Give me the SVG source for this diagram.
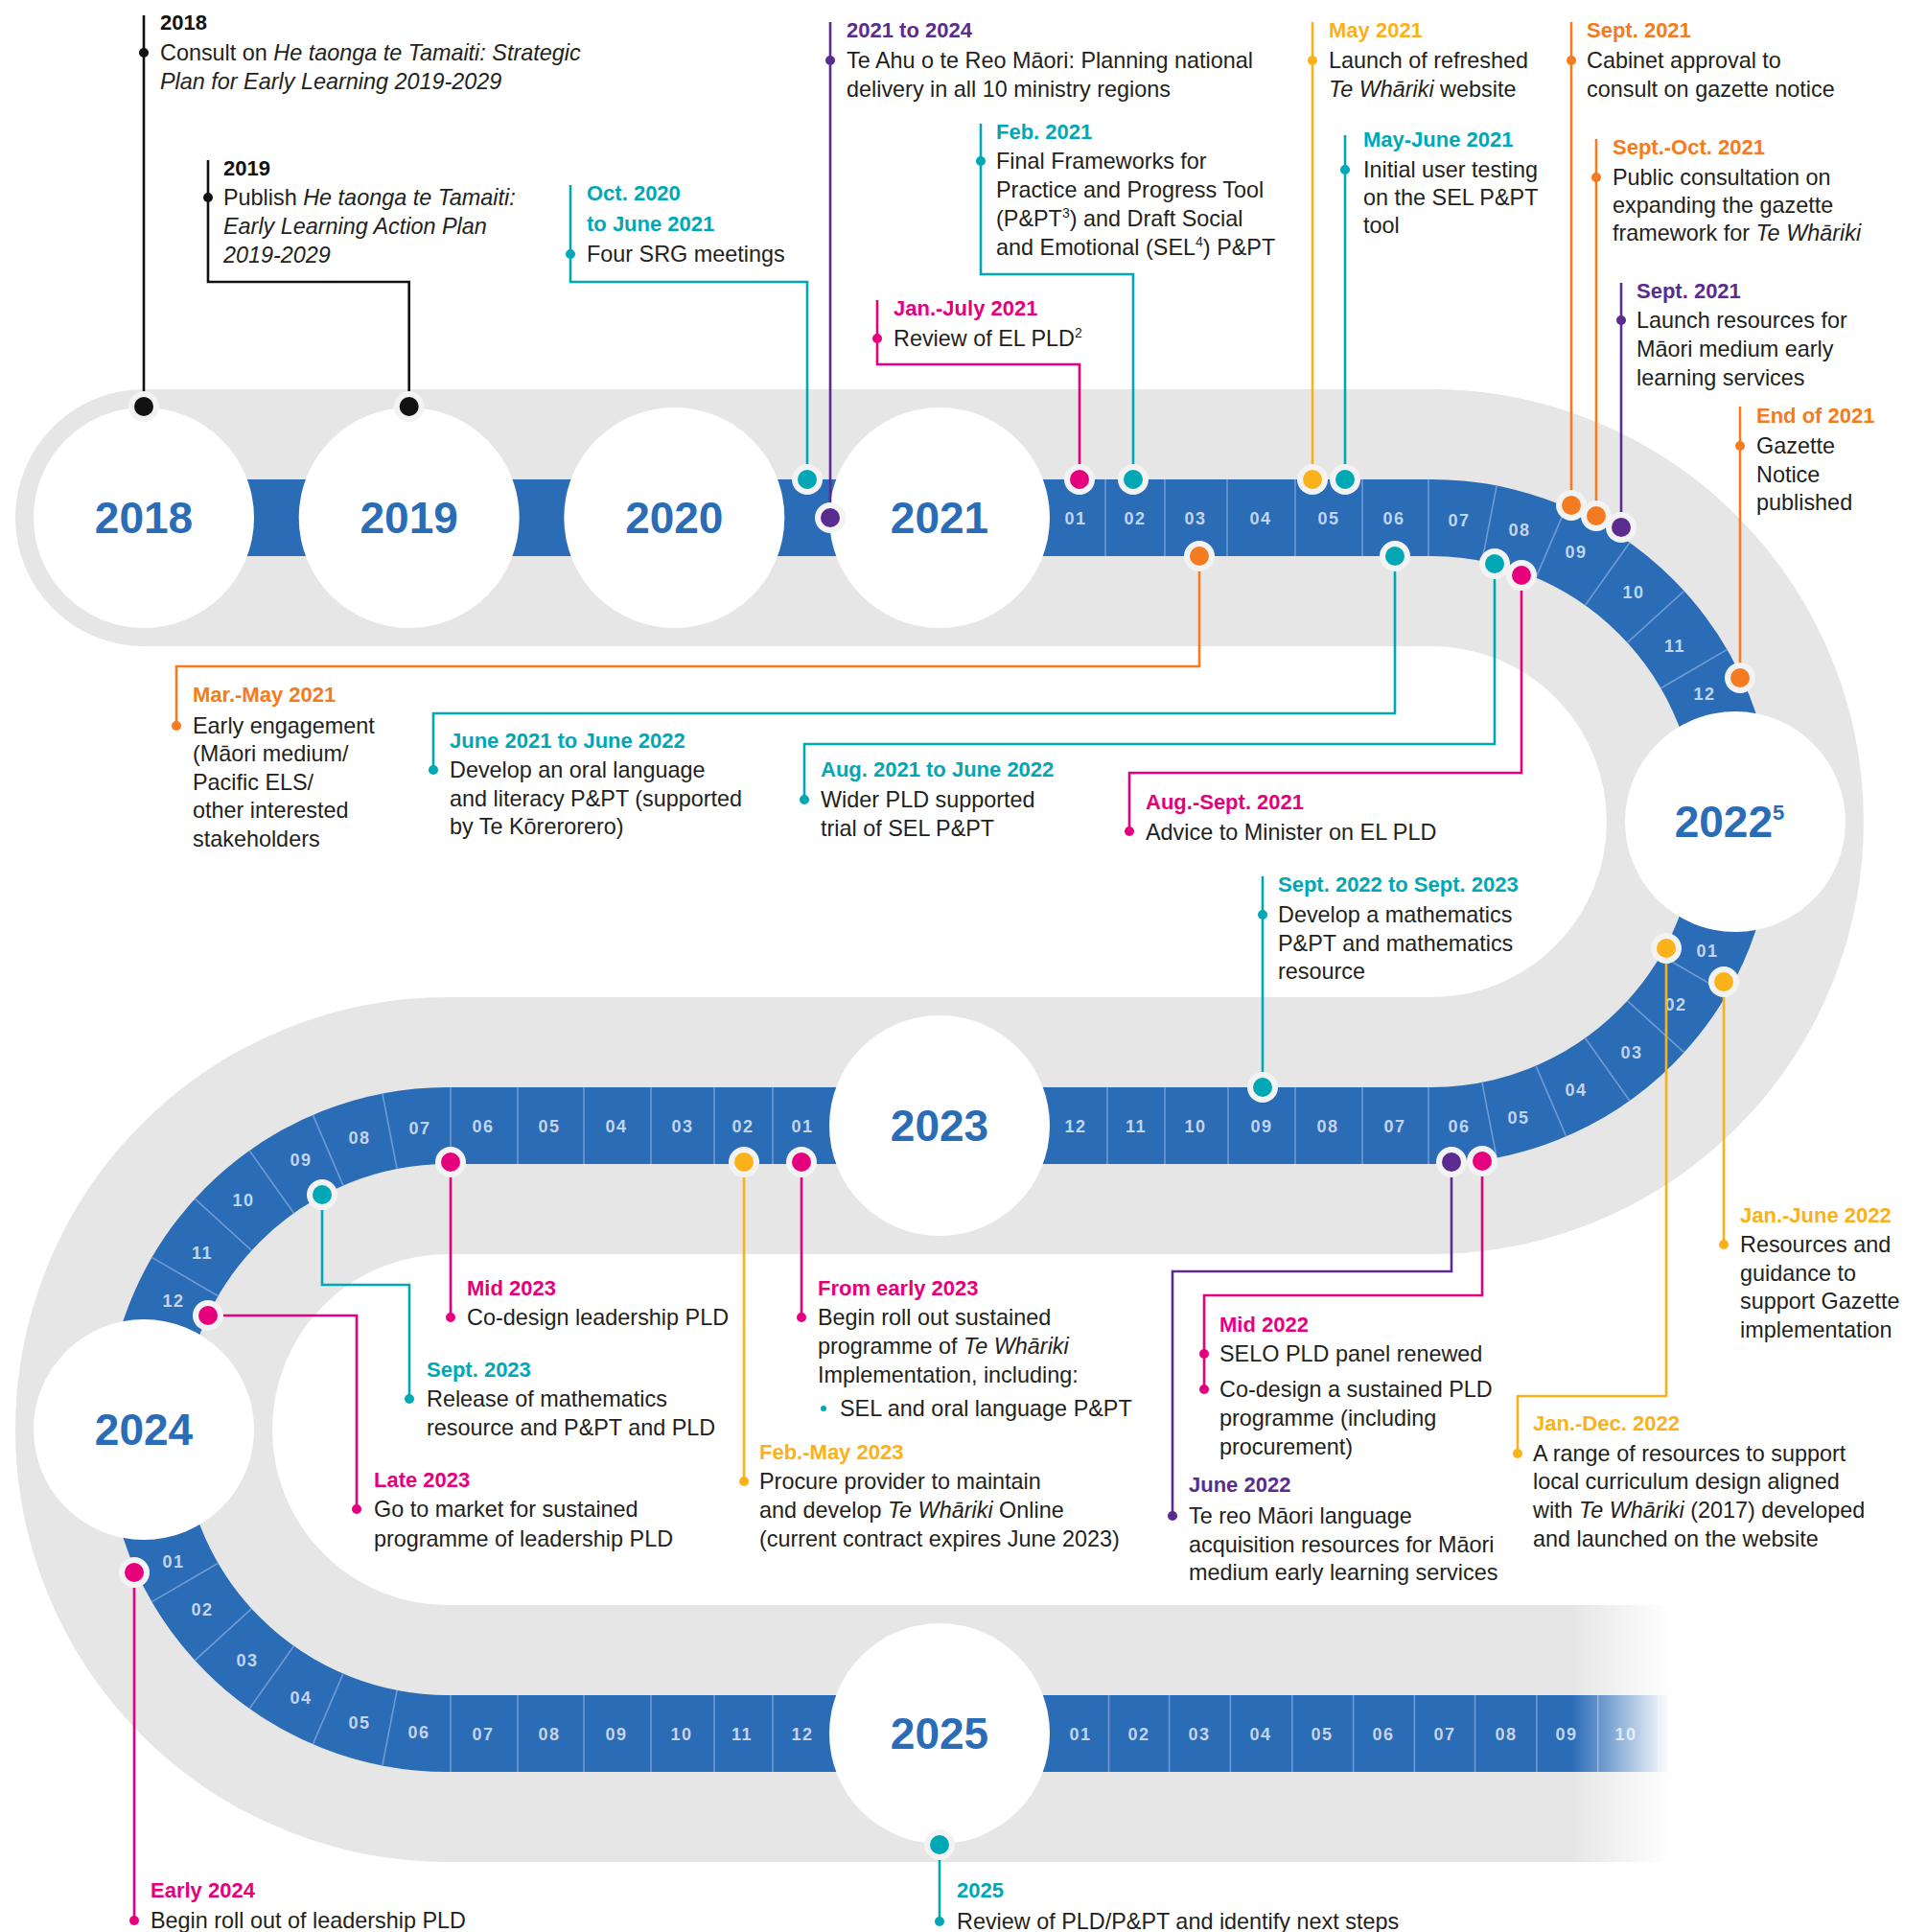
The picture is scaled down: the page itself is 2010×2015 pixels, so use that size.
<svg xmlns="http://www.w3.org/2000/svg" width="2010" height="2015" viewBox="0 0 2010 2015">
<style>
text{font-family:"Liberation Sans",Arial,sans-serif}
.ti{font-size:22px;font-weight:bold}
.b{font-size:23.4px;fill:#231f20}
.i{font-style:italic}
.yr{font-size:46px;font-weight:bold;fill:#2b6cb7;text-anchor:middle}
.mo{font-size:18px;font-weight:bold;fill:#c2d4ec;text-anchor:middle;letter-spacing:1.5px}
.dv{stroke:#6e9bd4;stroke-width:1.6}
.cn{fill:none;stroke-width:2.6}
.halo{fill:#f3f3f3}
.k{fill:#111111}.tl{fill:#00a7b5}.pu{fill:#5b2c8f}.pk{fill:#e6007e}.or{fill:#f47b20}.go{fill:#fbb21a}
.sk{stroke:#111111}.stl{stroke:#00a7b5}.spu{stroke:#5b2c8f}.spk{stroke:#e6007e}.sor{stroke:#f47b20}.sgo{stroke:#fbb21a}
</style>
<defs>
<linearGradient id="fade" gradientUnits="userSpaceOnUse" x1="1640" y1="0" x2="1742" y2="0">
<stop offset="0" stop-color="#ffffff" stop-opacity="0"/>
<stop offset="1" stop-color="#ffffff" stop-opacity="1"/>
</linearGradient>
</defs>
<rect width="2010" height="2015" fill="#ffffff"/>

<g id="track">
<circle cx="150" cy="540" r="134" fill="#e6e6e6"/>
<path d="M150,540 H1493 A317,317 0 0 1 1493,1174 H467 A317,317 0 0 0 467,1808" fill="none" stroke="#e6e6e6" stroke-width="268"/>
<rect x="462" y="1674" width="1300" height="268" fill="#e6e6e6"/>
<path d="M150,540 H1493 A317,317 0 0 1 1493,1174 H467 A317,317 0 0 0 467,1808" fill="none" stroke="#2b6cb7" stroke-width="80"/>
<rect x="462" y="1768" width="1300" height="80" fill="#2b6cb7"/>
</g>

<g id="month-dividers">
<line class="dv" x1="1153" y1="500" x2="1153" y2="580"/>
<line class="dv" x1="1215" y1="500" x2="1215" y2="580"/>
<line class="dv" x1="1280" y1="500" x2="1280" y2="580"/>
<line class="dv" x1="1351" y1="500" x2="1351" y2="580"/>
<line class="dv" x1="1421" y1="500" x2="1421" y2="580"/>
<line class="dv" x1="1490" y1="500" x2="1490" y2="580"/>
<line class="dv" x1="1545.9" y1="585.1" x2="1561.1" y2="506.6"/>
<line class="dv" x1="1602.1" y1="602.4" x2="1633.6" y2="528.9"/>
<line class="dv" x1="1653.5" y1="631.2" x2="1699.8" y2="566.0"/>
<line class="dv" x1="1697.6" y1="670.2" x2="1756.6" y2="616.3"/>
<line class="dv" x1="1732.4" y1="717.7" x2="1801.6" y2="677.4"/>
<line class="dv" x1="1732.4" y1="996.3" x2="1801.6" y2="1036.6"/>
<line class="dv" x1="1697.6" y1="1043.8" x2="1756.6" y2="1097.7"/>
<line class="dv" x1="1653.5" y1="1082.8" x2="1699.8" y2="1148.0"/>
<line class="dv" x1="1602.1" y1="1111.6" x2="1633.6" y2="1185.1"/>
<line class="dv" x1="1545.9" y1="1128.9" x2="1561.1" y2="1207.4"/>
<line class="dv" x1="1490" y1="1134" x2="1490" y2="1214"/>
<line class="dv" x1="1421" y1="1134" x2="1421" y2="1214"/>
<line class="dv" x1="1351" y1="1134" x2="1351" y2="1214"/>
<line class="dv" x1="1281" y1="1134" x2="1281" y2="1214"/>
<line class="dv" x1="1215" y1="1134" x2="1215" y2="1214"/>
<line class="dv" x1="1155" y1="1134" x2="1155" y2="1214"/>
<line class="dv" x1="806" y1="1134" x2="806" y2="1214"/>
<line class="dv" x1="745" y1="1134" x2="745" y2="1214"/>
<line class="dv" x1="679" y1="1134" x2="679" y2="1214"/>
<line class="dv" x1="609" y1="1134" x2="609" y2="1214"/>
<line class="dv" x1="540" y1="1134" x2="540" y2="1214"/>
<line class="dv" x1="470" y1="1134" x2="470" y2="1214"/>
<line class="dv" x1="414.1" y1="1219.1" x2="398.9" y2="1140.6"/>
<line class="dv" x1="357.9" y1="1236.4" x2="326.4" y2="1162.9"/>
<line class="dv" x1="306.5" y1="1265.2" x2="260.2" y2="1200.0"/>
<line class="dv" x1="262.4" y1="1304.2" x2="203.4" y2="1250.3"/>
<line class="dv" x1="227.6" y1="1351.7" x2="158.4" y2="1311.4"/>
<line class="dv" x1="227.6" y1="1630.3" x2="158.4" y2="1670.6"/>
<line class="dv" x1="262.4" y1="1677.8" x2="203.4" y2="1731.7"/>
<line class="dv" x1="306.5" y1="1716.8" x2="260.2" y2="1782.0"/>
<line class="dv" x1="357.9" y1="1745.6" x2="326.4" y2="1819.1"/>
<line class="dv" x1="414.1" y1="1762.9" x2="398.9" y2="1841.4"/>
<line class="dv" x1="470" y1="1768" x2="470" y2="1848"/>
<line class="dv" x1="540" y1="1768" x2="540" y2="1848"/>
<line class="dv" x1="609" y1="1768" x2="609" y2="1848"/>
<line class="dv" x1="679" y1="1768" x2="679" y2="1848"/>
<line class="dv" x1="745" y1="1768" x2="745" y2="1848"/>
<line class="dv" x1="806" y1="1768" x2="806" y2="1848"/>
<line class="dv" x1="1156.5" y1="1768" x2="1156.5" y2="1848"/>
<line class="dv" x1="1219.6" y1="1768" x2="1219.6" y2="1848"/>
<line class="dv" x1="1283.4" y1="1768" x2="1283.4" y2="1848"/>
<line class="dv" x1="1347.8" y1="1768" x2="1347.8" y2="1848"/>
<line class="dv" x1="1411.6" y1="1768" x2="1411.6" y2="1848"/>
<line class="dv" x1="1475.4" y1="1768" x2="1475.4" y2="1848"/>
<line class="dv" x1="1538.5" y1="1768" x2="1538.5" y2="1848"/>
<line class="dv" x1="1602.9" y1="1768" x2="1602.9" y2="1848"/>
<line class="dv" x1="1666.7" y1="1768" x2="1666.7" y2="1848"/>
<line class="dv" x1="1730" y1="1768" x2="1730" y2="1848"/>
</g>

<g id="month-labels">
<text class="mo" x="1122" y="547">01</text>
<text class="mo" x="1184" y="547">02</text>
<text class="mo" x="1247" y="547">03</text>
<text class="mo" x="1315" y="547">04</text>
<text class="mo" x="1386" y="547">05</text>
<text class="mo" x="1454" y="547">06</text>
<text class="mo" x="1522" y="549">07</text>
<text class="mo" x="1585" y="559">08</text>
<text class="mo" x="1644" y="582">09</text>
<text class="mo" x="1704" y="624">10</text>
<text class="mo" x="1747" y="680">11</text>
<text class="mo" x="1778" y="730">12</text>
<text class="mo" x="1781" y="998">01</text>
<text class="mo" x="1748" y="1054">02</text>
<text class="mo" x="1702" y="1104">03</text>
<text class="mo" x="1644" y="1143">04</text>
<text class="mo" x="1584" y="1172">05</text>
<text class="mo" x="1522" y="1181">06</text>
<text class="mo" x="1455" y="1181">07</text>
<text class="mo" x="1385" y="1181">08</text>
<text class="mo" x="1316" y="1181">09</text>
<text class="mo" x="1247" y="1181">10</text>
<text class="mo" x="1185" y="1181">11</text>
<text class="mo" x="1122" y="1181">12</text>
<text class="mo" x="837" y="1181">01</text>
<text class="mo" x="775" y="1181">02</text>
<text class="mo" x="712" y="1181">03</text>
<text class="mo" x="643" y="1181">04</text>
<text class="mo" x="573" y="1181">05</text>
<text class="mo" x="504" y="1181">06</text>
<text class="mo" x="438" y="1183">07</text>
<text class="mo" x="375" y="1193">08</text>
<text class="mo" x="314" y="1216">09</text>
<text class="mo" x="254" y="1258">10</text>
<text class="mo" x="211" y="1313">11</text>
<text class="mo" x="181" y="1363">12</text>
<text class="mo" x="181" y="1635">01</text>
<text class="mo" x="211" y="1685">02</text>
<text class="mo" x="258" y="1738">03</text>
<text class="mo" x="314" y="1777">04</text>
<text class="mo" x="375" y="1803">05</text>
<text class="mo" x="437" y="1813">06</text>
<text class="mo" x="504" y="1815">07</text>
<text class="mo" x="573" y="1815">08</text>
<text class="mo" x="643" y="1815">09</text>
<text class="mo" x="711" y="1815">10</text>
<text class="mo" x="774" y="1815">11</text>
<text class="mo" x="837" y="1815">12</text>
<text class="mo" x="1127" y="1815">01</text>
<text class="mo" x="1188" y="1815">02</text>
<text class="mo" x="1251" y="1815">03</text>
<text class="mo" x="1315" y="1815">04</text>
<text class="mo" x="1379" y="1815">05</text>
<text class="mo" x="1443" y="1815">06</text>
<text class="mo" x="1507" y="1815">07</text>
<text class="mo" x="1571" y="1815">08</text>
<text class="mo" x="1634" y="1815">09</text>
<text class="mo" x="1696" y="1815">10</text>
</g>

<rect id="fade-out" x="1636" y="1660" width="374" height="300" fill="url(#fade)"/>

<g id="years">
<g id="y2018"><circle cx="150" cy="540" r="115" fill="#fff"/><text class="yr" x="150" y="556">2018</text></g>
<g id="y2019"><circle cx="426.7" cy="540" r="115" fill="#fff"/><text class="yr" x="426.7" y="556">2019</text></g>
<g id="y2020"><circle cx="703.3" cy="540" r="115" fill="#fff"/><text class="yr" x="703.3" y="556">2020</text></g>
<g id="y2021"><circle cx="980" cy="540" r="115" fill="#fff"/><text class="yr" x="980" y="556">2021</text></g>
<g id="y2022"><circle cx="1810" cy="857" r="115" fill="#fff"/><text class="yr" x="1804" y="873">2022<tspan font-size="22" dy="-18">5</tspan></text></g>
<g id="y2023"><circle cx="980" cy="1174" r="115" fill="#fff"/><text class="yr" x="980" y="1190">2023</text></g>
<g id="y2024"><circle cx="150" cy="1491" r="115" fill="#fff"/><text class="yr" x="150" y="1507">2024</text></g>
<g id="y2025"><circle cx="980" cy="1808" r="115" fill="#fff"/><text class="yr" x="980" y="1824">2025</text></g>
</g>

<g id="connectors">
<path class="cn sk" d="M150,16 V424"/>
<path class="cn sk" d="M217,167 V294 H426.7 V424"/>
<path class="cn stl" d="M595,193 V294 H842 V500"/>
<path class="cn spu" d="M866,23 V540"/>
<path class="cn stl" d="M1023,129 V286 H1182 V500"/>
<path class="cn spk" d="M915,313 V380 H1126 V500"/>
<path class="cn sgo" d="M1369,23 V500"/>
<path class="cn stl" d="M1403,141 V500"/>
<path class="cn sor" d="M1639,23 V527"/>
<path class="cn sor" d="M1665,145 V538"/>
<path class="cn spu" d="M1691,295 V550"/>
<path class="cn sor" d="M1815,424 V707"/>
<path class="cn sor" d="M1251,580 V695 H184 V757"/>
<path class="cn stl" d="M1455,580 V744 H452 V803"/>
<path class="cn stl" d="M1559,588 V776 H839 V834"/>
<path class="cn spk" d="M1587,600 V806 H1178 V867"/>
<path class="cn stl" d="M1317,914 V1134"/>
<path class="cn sgo" d="M1798,1024 V1298"/>
<path class="cn sgo" d="M1738,989 V1456 H1583 V1516"/>
<path class="cn spu" d="M1514,1212 V1326 H1223 V1581"/>
<path class="cn spk" d="M1546,1211 V1351 H1256 V1449"/>
<path class="cn spk" d="M470,1212 V1374"/>
<path class="cn stl" d="M336,1246 V1340 H427 V1459"/>
<path class="cn spk" d="M217,1372 H372 V1574"/>
<path class="cn spk" d="M836,1212 V1374"/>
<path class="cn sgo" d="M776,1212 V1545"/>
<path class="cn spk" d="M140,1640 V2003"/>
<path class="cn stl" d="M980,1924 V2004"/>
</g>

<g id="track-dots">
<circle class="halo" cx="150" cy="424" r="16"/><circle class="k" cx="150" cy="424" r="10"/>
<circle class="halo" cx="426.7" cy="424" r="16"/><circle class="k" cx="426.7" cy="424" r="10"/>
<circle class="halo" cx="842" cy="500" r="16"/><circle class="tl" cx="842" cy="500" r="10"/>
<circle class="halo" cx="866" cy="540" r="16"/><circle class="pu" cx="866" cy="540" r="10"/>
<circle class="halo" cx="1126" cy="500" r="16"/><circle class="pk" cx="1126" cy="500" r="10"/>
<circle class="halo" cx="1182" cy="500" r="16"/><circle class="tl" cx="1182" cy="500" r="10"/>
<circle class="halo" cx="1369" cy="500" r="16"/><circle class="go" cx="1369" cy="500" r="10"/>
<circle class="halo" cx="1403" cy="500" r="16"/><circle class="tl" cx="1403" cy="500" r="10"/>
<circle class="halo" cx="1639" cy="527" r="16"/><circle class="or" cx="1639" cy="527" r="10"/>
<circle class="halo" cx="1665" cy="538" r="16"/><circle class="or" cx="1665" cy="538" r="10"/>
<circle class="halo" cx="1691" cy="550" r="16"/><circle class="pu" cx="1691" cy="550" r="10"/>
<circle class="halo" cx="1815" cy="707" r="16"/><circle class="or" cx="1815" cy="707" r="10"/>
<circle class="halo" cx="1251" cy="580" r="16"/><circle class="or" cx="1251" cy="580" r="10"/>
<circle class="halo" cx="1455" cy="580" r="16"/><circle class="tl" cx="1455" cy="580" r="10"/>
<circle class="halo" cx="1559" cy="588" r="16"/><circle class="tl" cx="1559" cy="588" r="10"/>
<circle class="halo" cx="1587" cy="600" r="16"/><circle class="pk" cx="1587" cy="600" r="10"/>
<circle class="halo" cx="1317" cy="1134" r="16"/><circle class="tl" cx="1317" cy="1134" r="10"/>
<circle class="halo" cx="1798" cy="1024" r="16"/><circle class="go" cx="1798" cy="1024" r="10"/>
<circle class="halo" cx="1738" cy="989" r="16"/><circle class="go" cx="1738" cy="989" r="10"/>
<circle class="halo" cx="1514" cy="1212" r="16"/><circle class="pu" cx="1514" cy="1212" r="10"/>
<circle class="halo" cx="1546" cy="1211" r="16"/><circle class="pk" cx="1546" cy="1211" r="10"/>
<circle class="halo" cx="470" cy="1212" r="16"/><circle class="pk" cx="470" cy="1212" r="10"/>
<circle class="halo" cx="336" cy="1246" r="16"/><circle class="tl" cx="336" cy="1246" r="10"/>
<circle class="halo" cx="217" cy="1372" r="16"/><circle class="pk" cx="217" cy="1372" r="10"/>
<circle class="halo" cx="836" cy="1212" r="16"/><circle class="pk" cx="836" cy="1212" r="10"/>
<circle class="halo" cx="776" cy="1212" r="16"/><circle class="go" cx="776" cy="1212" r="10"/>
<circle class="halo" cx="140" cy="1640" r="16"/><circle class="pk" cx="140" cy="1640" r="10"/>
<circle class="halo" cx="980" cy="1924" r="16"/><circle class="tl" cx="980" cy="1924" r="10"/>
</g>

<g id="e2018">
<circle class="k" cx="150" cy="55" r="5"/>
<text class="ti k" x="167" y="31">2018</text>
<text class="b" x="167" y="63">Consult on <tspan class="i">He taonga te Tamaiti: Strategic</tspan></text>
<text class="b i" x="167" y="93">Plan for Early Learning 2019-2029</text>
</g>
<g id="e2019">
<circle class="k" cx="217" cy="206" r="5"/>
<text class="ti k" x="233" y="183">2019</text>
<text class="b" x="233" y="214">Publish <tspan class="i">He taonga te Tamaiti:</tspan></text>
<text class="b i" x="233" y="244">Early Learning Action Plan</text>
<text class="b i" x="233" y="274">2019-2029</text>
</g>
<g id="e-oct2020">
<circle class="tl" cx="595" cy="265" r="5"/>
<text class="ti tl" x="612" y="209">Oct. 2020</text>
<text class="ti tl" x="612" y="241">to June 2021</text>
<text class="b" x="612" y="273">Four SRG meetings</text>
</g>
<g id="e-2021to2024">
<circle class="pu" cx="866" cy="63" r="5"/>
<text class="ti pu" x="883" y="39">2021 to 2024</text>
<text class="b" x="883" y="71">Te Ahu o te Reo Māori: Planning national</text>
<text class="b" x="883" y="101">delivery in all 10 ministry regions</text>
</g>
<g id="e-feb2021">
<circle class="tl" cx="1023" cy="168" r="5"/>
<text class="ti tl" x="1039" y="145">Feb. 2021</text>
<text class="b" x="1039" y="176">Final Frameworks for</text>
<text class="b" x="1039" y="206">Practice and Progress Tool</text>
<text class="b" x="1039" y="236">(P&amp;PT<tspan font-size="14" dy="-9">3</tspan><tspan dy="9">) and Draft Social</tspan></text>
<text class="b" x="1039" y="266">and Emotional (SEL<tspan font-size="14" dy="-9">4</tspan><tspan dy="9">) P&amp;PT</tspan></text>
</g>
<g id="e-janjuly2021">
<circle class="pk" cx="915" cy="353" r="5"/>
<text class="ti pk" x="932" y="329">Jan.-July 2021</text>
<text class="b" x="932" y="361">Review of EL PLD<tspan font-size="14" dy="-9">2</tspan></text>
</g>
<g id="e-may2021">
<circle class="go" cx="1369" cy="63" r="5"/>
<text class="ti go" x="1386" y="39">May 2021</text>
<text class="b" x="1386" y="71">Launch of refreshed</text>
<text class="b" x="1386" y="101"><tspan class="i">Te Whāriki</tspan> website</text>
</g>
<g id="e-mayjune2021">
<circle class="tl" cx="1403" cy="177" r="5"/>
<text class="ti tl" x="1422" y="153">May-June 2021</text>
<text class="b" x="1422" y="185">Initial user testing</text>
<text class="b" x="1422" y="214">on the SEL P&amp;PT</text>
<text class="b" x="1422" y="243">tool</text>
</g>
<g id="e-sept2021-cabinet">
<circle class="or" cx="1639" cy="63" r="5"/>
<text class="ti or" x="1655" y="39">Sept. 2021</text>
<text class="b" x="1655" y="71">Cabinet approval to</text>
<text class="b" x="1655" y="101">consult on gazette notice</text>
</g>
<g id="e-septoct2021">
<circle class="or" cx="1665" cy="185" r="5"/>
<text class="ti or" x="1682" y="161">Sept.-Oct. 2021</text>
<text class="b" x="1682" y="193">Public consultation on</text>
<text class="b" x="1682" y="222">expanding the gazette</text>
<text class="b" x="1682" y="251">framework for <tspan class="i">Te Whāriki</tspan></text>
</g>
<g id="e-sept2021-launch">
<circle class="pu" cx="1691" cy="334" r="5"/>
<text class="ti pu" x="1707" y="311">Sept. 2021</text>
<text class="b" x="1707" y="342">Launch resources for</text>
<text class="b" x="1707" y="372">Māori medium early</text>
<text class="b" x="1707" y="402">learning services</text>
</g>
<g id="e-end2021">
<circle class="or" cx="1815" cy="465" r="5"/>
<text class="ti or" x="1832" y="441">End of 2021</text>
<text class="b" x="1832" y="473">Gazette</text>
<text class="b" x="1832" y="503">Notice</text>
<text class="b" x="1832" y="532">published</text>
</g>
<g id="e-marmay2021">
<circle class="or" cx="184" cy="757" r="5"/>
<text class="ti or" x="201" y="732">Mar.-May 2021</text>
<text class="b" x="201" y="765">Early engagement</text>
<text class="b" x="201" y="794">(Māori medium/</text>
<text class="b" x="201" y="824">Pacific ELS/</text>
<text class="b" x="201" y="853">other interested</text>
<text class="b" x="201" y="883">stakeholders</text>
</g>
<g id="e-june2021">
<circle class="tl" cx="452" cy="803" r="5"/>
<text class="ti tl" x="469" y="780">June 2021 to June 2022</text>
<text class="b" x="469" y="811">Develop an oral language</text>
<text class="b" x="469" y="841">and literacy P&amp;PT (supported</text>
<text class="b" x="469" y="870">by Te Kōrerorero)</text>
</g>
<g id="e-aug2021">
<circle class="tl" cx="839" cy="834" r="5"/>
<text class="ti tl" x="856" y="810">Aug. 2021 to June 2022</text>
<text class="b" x="856" y="842">Wider PLD supported</text>
<text class="b" x="856" y="872">trial of SEL P&amp;PT</text>
</g>
<g id="e-augsept2021">
<circle class="pk" cx="1178" cy="867" r="5"/>
<text class="ti pk" x="1195" y="844">Aug.-Sept. 2021</text>
<text class="b" x="1195" y="876">Advice to Minister on EL PLD</text>
</g>
<g id="e-sept2022">
<circle class="tl" cx="1317" cy="954" r="5"/>
<text class="ti tl" x="1333" y="930">Sept. 2022 to Sept. 2023</text>
<text class="b" x="1333" y="962">Develop a mathematics</text>
<text class="b" x="1333" y="992">P&amp;PT and mathematics</text>
<text class="b" x="1333" y="1021">resource</text>
</g>
<g id="e-janjune2022">
<circle class="go" cx="1798" cy="1298" r="5"/>
<text class="ti go" x="1815" y="1275">Jan.-June 2022</text>
<text class="b" x="1815" y="1306">Resources and</text>
<text class="b" x="1815" y="1336">guidance to</text>
<text class="b" x="1815" y="1365">support Gazette</text>
<text class="b" x="1815" y="1395">implementation</text>
</g>
<g id="e-jandec2022">
<circle class="go" cx="1583" cy="1516" r="5"/>
<text class="ti go" x="1599" y="1492">Jan.-Dec. 2022</text>
<text class="b" x="1599" y="1524">A range of resources to support</text>
<text class="b" x="1599" y="1553">local curriculum design aligned</text>
<text class="b" x="1599" y="1583">with <tspan class="i">Te Whāriki</tspan> (2017) developed</text>
<text class="b" x="1599" y="1613">and launched on the website</text>
</g>
<g id="e-june2022">
<circle class="pu" cx="1223" cy="1581" r="5"/>
<text class="ti pu" x="1240" y="1556">June 2022</text>
<text class="b" x="1240" y="1589">Te reo Māori language</text>
<text class="b" x="1240" y="1619">acquisition resources for Māori</text>
<text class="b" x="1240" y="1648">medium early learning services</text>
</g>
<g id="e-mid2022">
<circle class="pk" cx="1256" cy="1412" r="5"/>
<circle class="pk" cx="1256" cy="1449" r="5"/>
<text class="ti pk" x="1272" y="1389">Mid 2022</text>
<text class="b" x="1272" y="1420">SELO PLD panel renewed</text>
<text class="b" x="1272" y="1457">Co-design a sustained PLD</text>
<text class="b" x="1272" y="1487">programme (including</text>
<text class="b" x="1272" y="1517">procurement)</text>
</g>
<g id="e-mid2023">
<circle class="pk" cx="470" cy="1374" r="5"/>
<text class="ti pk" x="487" y="1351">Mid 2023</text>
<text class="b" x="487" y="1382">Co-design leadership PLD</text>
</g>
<g id="e-sept2023">
<circle class="tl" cx="427" cy="1459" r="5"/>
<text class="ti tl" x="445" y="1436">Sept. 2023</text>
<text class="b" x="445" y="1467">Release of mathematics</text>
<text class="b" x="445" y="1497">resource and P&amp;PT and PLD</text>
</g>
<g id="e-late2023">
<circle class="pk" cx="372" cy="1574" r="5"/>
<text class="ti pk" x="390" y="1551">Late 2023</text>
<text class="b" x="390" y="1582">Go to market for sustained</text>
<text class="b" x="390" y="1613">programme of leadership PLD</text>
</g>
<g id="e-early2023">
<circle class="pk" cx="836" cy="1374" r="5"/>
<text class="ti pk" x="853" y="1351">From early 2023</text>
<text class="b" x="853" y="1382">Begin roll out sustained</text>
<text class="b" x="853" y="1412">programme of <tspan class="i">Te Whāriki</tspan></text>
<text class="b" x="853" y="1442">Implementation, including:</text>
<circle class="tl" cx="859" cy="1469" r="3"/>
<text class="b" x="876" y="1477">SEL and oral language P&amp;PT</text>
</g>
<g id="e-febmay2023">
<circle class="go" cx="776" cy="1545" r="5"/>
<text class="ti go" x="792" y="1522">Feb.-May 2023</text>
<text class="b" x="792" y="1553">Procure provider to maintain</text>
<text class="b" x="792" y="1583">and develop <tspan class="i">Te Whāriki</tspan> Online</text>
<text class="b" x="792" y="1613">(current contract expires June 2023)</text>
</g>
<g id="e-early2024">
<circle class="pk" cx="140" cy="2003" r="5"/>
<text class="ti pk" x="157" y="1979">Early 2024</text>
<text class="b" x="157" y="2011">Begin roll out of leadership PLD</text>
</g>
<g id="e-2025">
<circle class="tl" cx="980" cy="2004" r="5"/>
<text class="ti tl" x="998" y="1979">2025</text>
<text class="b" x="998" y="2012">Review of PLD/P&amp;PT and identify next steps</text>
</g>
</svg>
